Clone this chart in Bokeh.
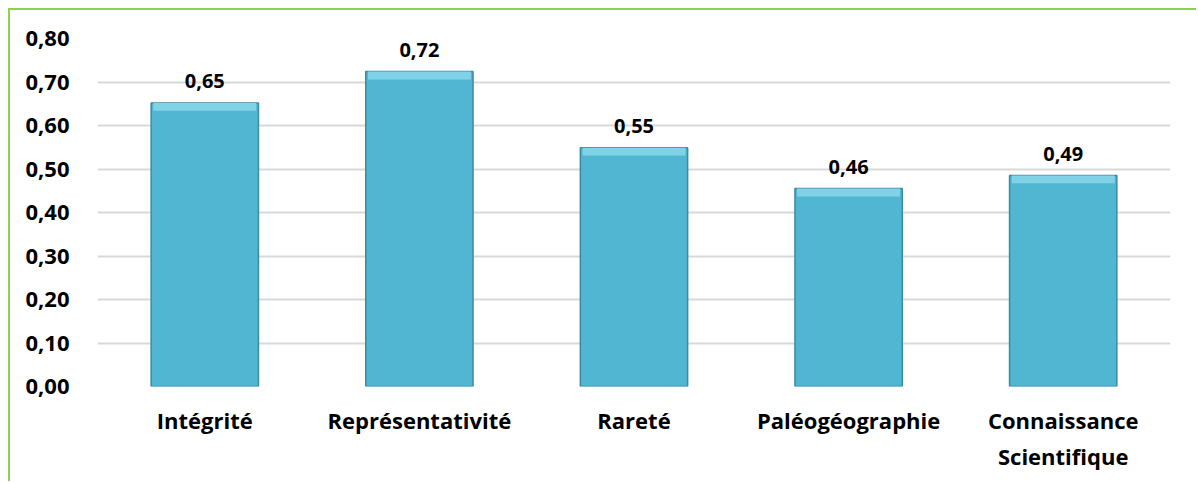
from bokeh.plotting import figure
from bokeh.models import ColumnDataSource, CustomJSTickFormatter, Range1d, FactorRange
from bokeh.core.properties import value
from bokeh.embed import file_html
from bokeh.resources import INLINE

categories = ["Intégrité", "Représentativité", "Rareté", "Paléogéographie", "Connaissance\nScientifique"]
values = [0.652, 0.724, 0.549, 0.455, 0.485]
labels = ["0,65", "0,72", "0,55", "0,46", "0,49"]
yticks = [0.0, 0.1, 0.2, 0.3, 0.4, 0.5, 0.6, 0.7, 0.8]

FONT = "Open Sans"
bevel = 0.018
src = ColumnDataSource(dict(
    x=categories, top=values, lab=labels,
    bev_bottom=[v - bevel for v in values],
))

p = figure(x_range=FactorRange(*categories, range_padding=0), y_range=Range1d(0, 0.8),
           width=1188, height=473, output_backend="svg", toolbar_location=None,
           min_border_left=87, min_border_right=28, min_border_top=28, min_border_bottom=97)
p.styles = {"border-left": "2px solid #92D050", "border-top": "2px solid #92D050",
            "margin-left": "8px", "margin-top": "8px"}
p.outline_line_color = None

p.vbar(x="x", top="top", width=0.5, source=src, fill_color="#50B6D1",
       line_color="#3A8BA2", line_width=1.5)
p.vbar(x="x", top="top", bottom="bev_bottom", width=0.48, source=src,
       fill_color="#80D3E7", line_color=None)
p.text(x="x", y="top", text="lab", source=src, text_font=value(FONT),
       text_font_style="bold", text_font_size="20px", text_align="center",
       text_baseline="bottom", y_offset=-15, text_color="#000000")

p.yaxis.ticker = yticks
p.yaxis.formatter = CustomJSTickFormatter(code="return tick.toFixed(2).replace('.', ',');")
for ax in (p.xaxis, p.yaxis):
    ax.axis_line_color = None
    ax.major_tick_line_color = None
    ax.minor_tick_line_color = None
    ax.major_label_text_font = FONT
    ax.major_label_text_font_style = "bold"
    ax.major_label_text_color = "#000000"
p.yaxis.major_label_text_font_size = "22px"
p.xaxis.major_label_text_font_size = "22px"
p.yaxis.major_label_standoff = 22
p.xaxis.major_label_standoff = 12
p.xgrid.grid_line_color = None
p.ygrid.grid_line_color = "#D9D9D9"
p.ygrid.grid_line_width = 2

open("out.html", "w").write(file_html(p, INLINE))
